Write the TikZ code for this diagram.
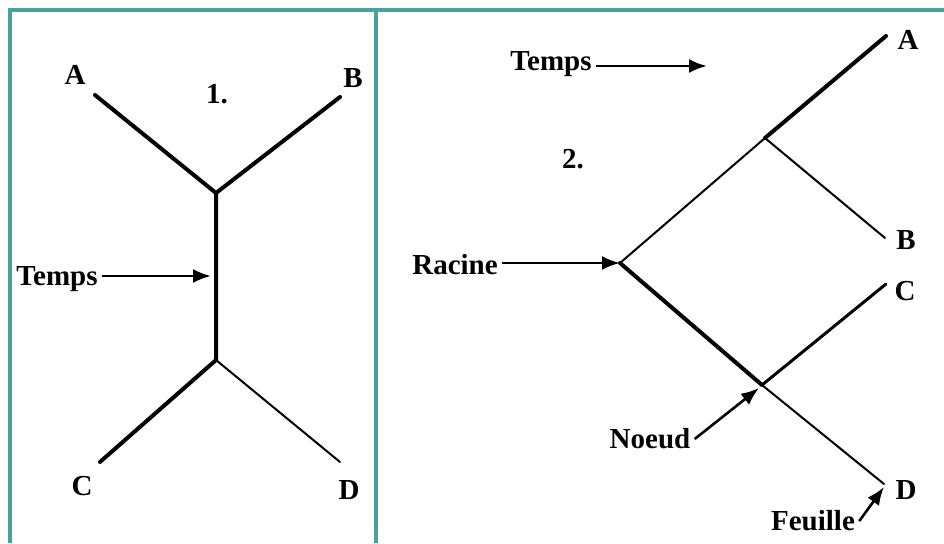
\documentclass[tikz,border=0pt]{standalone}
\usepackage{fontspec}
\setmainfont{Liberation Serif}
\usetikzlibrary{arrows.meta}
\definecolor{frame}{RGB}{72,162,156}
\tikzset{
  lbl/.style={font=\fontsize{14.5}{17}\selectfont\bfseries, inner sep=2pt},
  heavy/.style={line width=2pt, line cap=round},
  light/.style={line width=1pt, line cap=round},
  pointer/.style={line width=1.3pt, -{Latex[length=9pt,width=7pt]}},
  border/.style={frame, line width=1.6pt}
}
\begin{document}
\begin{tikzpicture}[x=0.5pt,y=-0.5pt]
\useasboundingbox (0,0) rectangle (944,543);
\fill[white] (0,0) rectangle (944,543);
% frame
\coordinate (tl) at (10,10);
\coordinate (tr) at (944,10);
\coordinate (bl) at (10,543);
\coordinate (mt) at (376,10);
\coordinate (mb) at (376,543);
\draw[border] (bl) -- (tl) -- (tr);
\draw[border] (mt) -- (mb);

% ---- tree 1 ----
\coordinate (a1) at (95,95);
\coordinate (b1) at (340,97);
\coordinate (up1) at (216,193);
\coordinate (lo1) at (216,360);
\coordinate (c1) at (100,462);
\coordinate (d1) at (340,462);
\coordinate (t1) at (211,276);
\draw[heavy] (a1) -- (up1) -- (b1);
\draw[heavy] (up1) -- (lo1) -- (c1);
\draw[light] (lo1) -- (d1);
\node[lbl] (A1) at (75,75) {A};
\node[lbl] (B1) at (353,78) {B};
\node[lbl] (C1) at (82,486) {C};
\node[lbl] (D1) at (349,490) {D};
\node[lbl] (n1) at (217,94) {1.};
\node[lbl] (temps1) at (57,279) {Temps};
\draw[pointer] (temps1.east |- t1) -- (t1);

% ---- tree 2 ----
\coordinate (root) at (620,263);
\coordinate (ab) at (765,138);
\coordinate (a2) at (886,36);
\coordinate (b2) at (885,238);
\coordinate (cd) at (762,385);
\coordinate (c2) at (886,284);
\coordinate (d2) at (884,484);
\draw[light] (root) -- (ab) -- (b2);
\draw[heavy] (ab) -- (a2);
\draw[heavy] (root) -- (cd);
\draw[light] (cd) -- (d2);
\draw[line width=1.5pt, line cap=round] (cd) -- (c2);
\node[lbl] (A2) at (908,40) {A};
\node[lbl] (B2) at (906,240) {B};
\node[lbl] (C2) at (905,291) {C};
\node[lbl] (D2) at (906,490) {D};
\node[lbl] (n2) at (573,159) {2.};
\node[lbl] (temps2) at (551,64) {Temps};
\coordinate (tend) at (707,66);
\draw[pointer] (temps2.east |- tend) -- (tend);
\node[lbl] (racine) at (455,265) {Racine};
\draw[pointer] (racine.east |- root) -- (root);
\node[lbl] (noeud) at (650,439) {Noeud};
\coordinate (nend) at (759,388);
\draw[pointer] (noeud.east) -- (nend);
\node[lbl] (feuille) at (813,521) {Feuille};
\coordinate (fend) at (884,487);
\draw[pointer] (feuille.east) -- (fend);
\end{tikzpicture}
\end{document}
